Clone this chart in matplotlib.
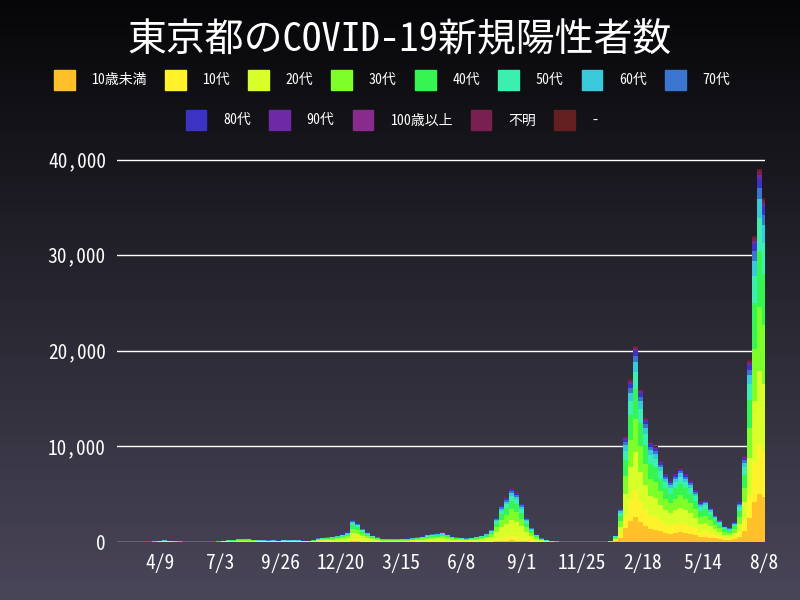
import numpy as np
import matplotlib
matplotlib.use("Agg")
import matplotlib.pyplot as plt
from matplotlib.patches import Patch
from matplotlib.colors import LinearSegmentedColormap
import datetime as dt

plt.rcParams['font.family'] = ['Noto Sans Mono CJK JP', 'Noto Sans CJK JP', 'DejaVu Sans']

groups = ['10歳未満', '10代', '20代', '30代', '40代', '50代', '60代', '70代',
          '80代', '90代', '100歳以上', '不明', '-']
colors = ['#FFC02A', '#FFF22A', '#D9FF2A', '#7FFF2A', '#36F552', '#3AEFB0', '#3AC9DB',
          '#3A75D0', '#3A33C4', '#6E2AA6', '#8A2A8C', '#7A2050', '#642020']

# age shares (%) per era
share_2020_21 = [3, 8, 30, 20, 15, 10, 5, 4, 3, 1, 0.02, 0.5, 0.0]
share_2022 = [13, 13, 20, 17, 15, 9, 5, 3, 2.5, 1, 0.05, 1, 0.5]

start = dt.date(2020, 2, 8)
# weekly (daily-level) totals starting 2020-02-08
weekly_total = [
    2, 3, 5,
    8, 10, 15, 40, 70,
    130, 180, 150, 100,
    60, 25, 10, 10, 20,
    25, 40, 45, 60,
    130, 220, 250, 300,
    350, 330, 260, 200, 180,
    170, 180, 160, 190,
    180, 200, 180, 160, 150,
    250, 400, 450, 500,
    550, 650, 800, 1000,
    2300, 2000, 1400, 1000, 700,
    500, 350, 300, 300,
    300, 320, 380, 420,
    500, 600, 750, 850,
    900, 1000, 800, 600, 500,
    450, 400, 450, 550,
    700, 900, 1300, 2500, 3800,
    4600, 5600, 5200, 4000,
    2500, 1500, 800, 400,
    200, 100, 60, 30, 25,
    20, 25, 25, 20,
    15, 15, 20, 40,
    100, 700, 3500, 11000, 17000,
    20500, 16000, 13000, 10500,
    10000, 8500, 7200, 6500,
    7200, 7800, 7200, 6500, 5500,
    4200, 4400, 3600, 2900,
    2300, 1700, 1500, 2100,
    4200, 9000, 19000, 32000, 39000,
    36000,
]
split_date = dt.date(2022, 1, 1)

tick_dates = [dt.date(2020, 4, 9), dt.date(2020, 7, 3), dt.date(2020, 9, 26),
              dt.date(2020, 12, 20), dt.date(2021, 3, 15), dt.date(2021, 6, 8),
              dt.date(2021, 9, 1), dt.date(2021, 11, 25), dt.date(2022, 2, 18),
              dt.date(2022, 5, 14), dt.date(2022, 8, 8)]

x = np.arange(len(weekly_total)) * 7
dates = [start + dt.timedelta(days=int(d)) for d in x]
tot = np.array(weekly_total, float)
shares = np.array([share_2022 if d >= split_date else share_2020_21 for d in dates], float)
shares = shares / shares.sum(axis=1, keepdims=True)
vals = shares * tot[:, None]

fig = plt.figure(figsize=(8, 6), dpi=100)
bg = fig.add_axes([0, 0, 1, 1], zorder=-10)
grad = np.linspace(0, 1, 256)[:, None]
cm = LinearSegmentedColormap.from_list('bg', ['#060608', '#4a4659'])
bg.imshow(grad, aspect='auto', cmap=cm, extent=[0, 1, 0, 1], origin='upper')
bg.axis('off')

ax = fig.add_axes([117/800, 58/600, 648/800, 392/600])
ax.set_facecolor('none')
bottom = np.zeros(len(x))
for i, g in enumerate(groups):
    ax.bar(x + 3.5, vals[:, i], width=7, bottom=bottom, color=colors[i], linewidth=0, zorder=3)
    bottom += vals[:, i]

ax.set_xticks([(d - start).days for d in tick_dates])
ax.set_xticklabels([f"{d.month}/{d.day}" for d in tick_dates], color='white', fontsize=14)
ax.set_xlim(0, (tick_dates[-1] - start).days + 2)
ax.set_ylim(0, 41000)
ax.set_yticks([0, 10000, 20000, 30000, 40000])
ax.set_yticklabels(['0', '10,000', '20,000', '30,000', '40,000'], color='white', fontsize=14)
ax.grid(axis='y', color='white', linewidth=1, zorder=1)
for s in ax.spines.values():
    s.set_visible(False)
ax.tick_params(length=0, pad=8)

fig.text(0.5, 0.932, '東京都のCOVID-19新規陽性者数', ha='center', va='center', color='white', fontsize=28)

h1 = [Patch(color=colors[i], label=groups[i]) for i in range(8)]
h2 = [Patch(color=colors[i], label=groups[i]) for i in range(8, 13)]
kw = dict(frameon=False, fontsize=10, labelcolor='white', handlelength=1.5, handleheight=1.8,
          handletextpad=1.2, columnspacing=1.3, loc='center')
fig.legend(handles=h1, ncol=8, bbox_to_anchor=(0.49, 0.867), **kw)
fig.legend(handles=h2, ncol=5, bbox_to_anchor=(0.49, 0.80), **kw)

fig.savefig('out.png', dpi=100)
